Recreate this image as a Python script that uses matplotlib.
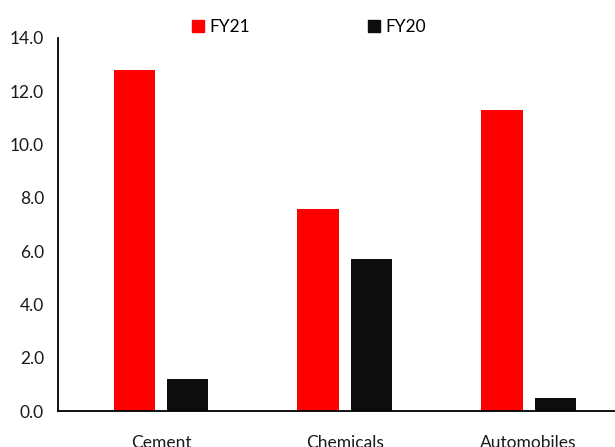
import matplotlib.pyplot as plt
import numpy as np
from matplotlib.patches import Patch

plt.rcParams['font.family'] = ['Lato', 'DejaVu Sans']

sectors = ["Cement", "Chemicals", "Automobiles"]
fy21 = [12.8, 7.6, 11.3]
fy20 = [1.2, 5.7, 0.5]

fig = plt.figure(figsize=(6.15, 4.47), dpi=100)
ax = fig.add_axes([58/615, 1-411/447, 1-58/615, (411-38)/447])

x = np.arange(len(sectors))
w = 0.225
off = 0.145
ax.bar(x - off, fy21, width=w, color='#FF0000', label='FY21')
ax.bar(x + off, fy20, width=w, color='#0D0D0D', label='FY20')

ax.set_xlim(-0.56, 2.47)
ax.set_ylim(0, 14)
ax.set_yticks(np.arange(0, 14.1, 2))
ax.set_yticklabels([f"{v:.1f}" for v in np.arange(0, 14.1, 2)])
ax.set_xticks(x)
ax.set_xticklabels(sectors)
ax.tick_params(axis='both', length=0, labelsize=12.5, colors='#1a1a1a')
ax.tick_params(axis='x', pad=17)
ax.tick_params(axis='y', pad=10)

for s in ['top', 'right']:
    ax.spines[s].set_visible(False)
ax.spines['left'].set_linewidth(1.3)
ax.spines['bottom'].set_linewidth(1.3)

handles = [Patch(color='#FF0000'), Patch(color='#0D0D0D')]
fig.legend(handles, ['FY21', 'FY20'], loc='center', bbox_to_anchor=(309/615, 1-27/447),
           ncol=2, frameon=False, fontsize=12.5, handlelength=0.7, handleheight=0.7,
           handletextpad=0.3, columnspacing=6.8)

fig.savefig("out.png", dpi=100)
